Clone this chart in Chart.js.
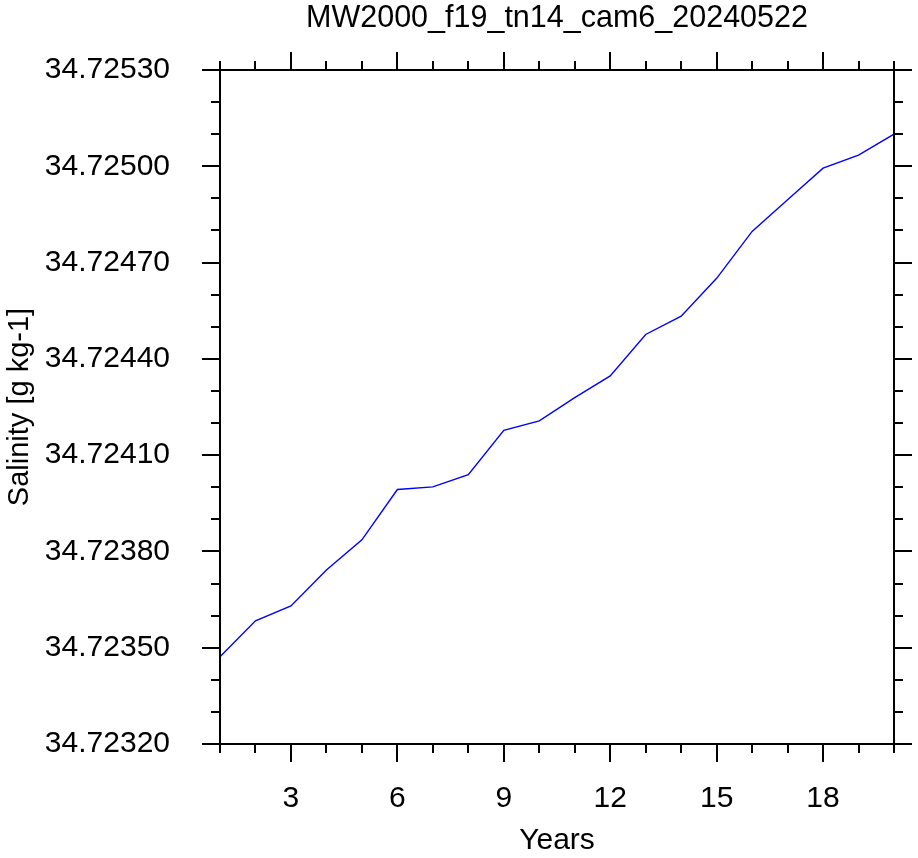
<!DOCTYPE html>
<html>
<head>
<meta charset="utf-8">
<script src="https://cdn.jsdelivr.net/npm/chart.js@4"></script>
<style>
  html, body { margin: 0; padding: 0; background: #fff; }
  #wrap { width: 918px; height: 858px; }
</style>
</head>
<body>
<div id="wrap"><canvas id="lineChart"></canvas></div>
<script>
  const years = [1, 2, 3, 4, 5, 6, 7, 8, 9, 10, 11, 12, 13, 14, 15, 16, 17, 18, 19, 20];
  const salinity = [
    34.723472, 34.723584, 34.723630, 34.723742, 34.723836,
    34.723993, 34.724001, 34.724039, 34.724177, 34.724207,
    34.724279, 34.724347, 34.724476, 34.724533, 34.724651,
    34.724797, 34.724896, 34.724994, 34.725035, 34.725100
  ];
  const xTicks = [3, 6, 9, 12, 15, 18];
  const yTicks = [34.72320, 34.72350, 34.72380, 34.72410, 34.72440, 34.72470, 34.72500, 34.72530];
  const yMinorStep = 0.0001;

  const FONT = '"Liberation Sans", Arial, Helvetica, sans-serif';

  // NCL style frame with major/minor ticks pointing outward on all sides
  const frameTicks = {
    id: 'frameTicks',
    afterDraw(chart) {
      const { ctx, chartArea: a, scales: { x, y } } = chart;
      ctx.save();
      ctx.strokeStyle = '#000';
      ctx.lineWidth = 2;
      ctx.beginPath();
      // x ticks (every year, major on xTicks)
      for (let v = x.min; v <= x.max; v++) {
        const px = Math.round(x.getPixelForValue(v));
        const len = xTicks.includes(v) ? 18 : 9;
        ctx.moveTo(px, a.bottom); ctx.lineTo(px, a.bottom + len);
        ctx.moveTo(px, a.top); ctx.lineTo(px, a.top - len);
      }
      // y ticks
      const n = Math.round((y.max - y.min) / yMinorStep);
      for (let k = 0; k <= n; k++) {
        const py = Math.round(y.getPixelForValue(y.min + k * yMinorStep));
        const len = k % 3 === 0 ? 18 : 9;
        ctx.moveTo(a.left, py); ctx.lineTo(a.left - len, py);
        ctx.moveTo(a.right, py); ctx.lineTo(a.right + len, py);
      }
      ctx.stroke();
      ctx.strokeRect(a.left, a.top, a.right - a.left, a.bottom - a.top);
      ctx.restore();
    }
  };

  const ctx = document.getElementById('lineChart').getContext('2d');
  const chart = new Chart(ctx, {
    type: 'line',
    data: {
      datasets: [{
        data: years.map((yr, i) => ({ x: yr, y: salinity[i] })),
        borderColor: '#0000ff',
        borderWidth: 1.4,
        pointRadius: 0,
        fill: false,
        tension: 0
      }]
    },
    options: {
      responsive: true,
      maintainAspectRatio: false,
      animation: false,
      layout: { padding: { left: 0, right: 24, top: 0, bottom: 0 } },
      plugins: {
        legend: { display: false },
        tooltip: { enabled: false },
        title: {
          display: true,
          text: 'MW2000_f19_tn14_cam6_20240522',
          fullSize: false,
          color: '#000',
          font: { family: FONT, size: 30.5, weight: 'normal', lineHeight: 1.2 },
          padding: { top: 0, bottom: 33.4 }
        }
      },
      scales: {
        x: {
          type: 'linear',
          min: 1,
          max: 20,
          grid: { display: false },
          border: { display: false },
          afterBuildTicks: s => { s.ticks = xTicks.map(v => ({ value: v })); },
          afterFit: s => { s.height = 114; },
          ticks: {
            color: '#000',
            padding: 29,
            maxRotation: 0,
            font: { family: FONT, size: 30 }
          },
          title: {
            display: true,
            text: 'Years',
            color: '#000',
            font: { family: FONT, size: 30, lineHeight: 1 },
            padding: { top: 0, bottom: 2 }
          }
        },
        y: {
          min: 34.7232,
          max: 34.7253,
          grid: { display: false },
          border: { display: false },
          afterBuildTicks: s => { s.ticks = yTicks.map(v => ({ value: v })); },
          afterFit: s => { s.width = 220; },
          ticks: {
            color: '#000',
            padding: 42,
            font: { family: FONT, size: 30 },
            callback: v => Number(v).toFixed(5)
          },
          title: {
            display: true,
            text: 'Salinity [g kg-1]',
            color: '#000',
            font: { family: FONT, size: 29 },
            padding: { top: 3, bottom: 0 }
          }
        }
      }
    },
    plugins: [frameTicks]
  });
</script>
</body>
</html>
